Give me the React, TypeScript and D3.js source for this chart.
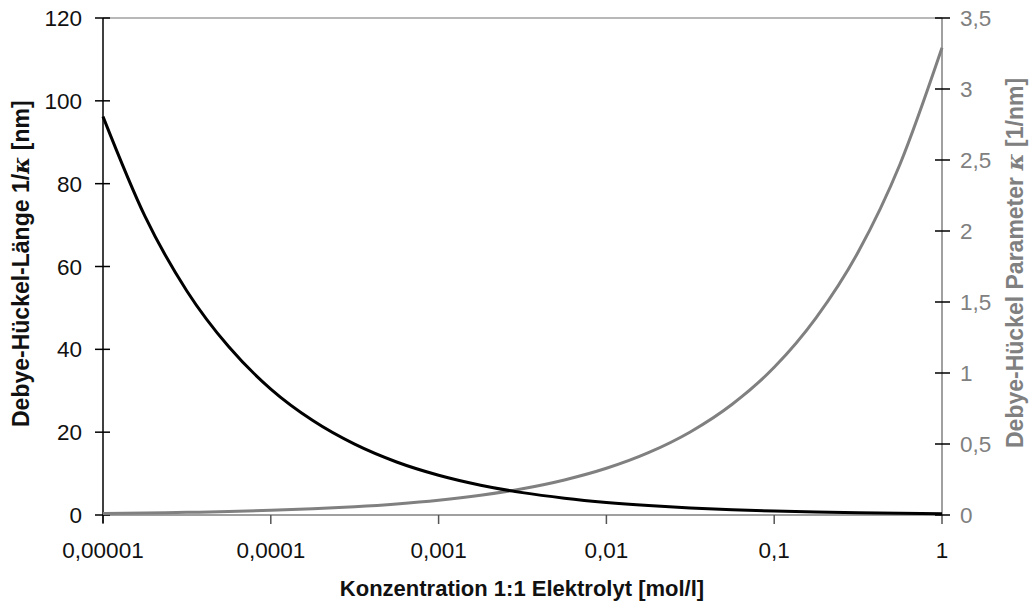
import React from "react";
import * as d3 from "d3";

const concentrations = [
  1e-5, 1.78e-5, 3.16e-5, 5.62e-5, 1e-4, 1.78e-4, 3.16e-4, 5.62e-4, 1e-3, 1.78e-3, 3.16e-3,
  5.62e-3, 0.01, 0.0178, 0.0316, 0.0562, 0.1, 0.178, 0.316, 0.562, 1,
];
const debyeLength = [
  96.2, 72.1, 54.1, 40.6, 30.4, 22.8, 17.1, 12.8, 9.6, 7.2, 5.4, 4.06, 3.04, 2.28, 1.71, 1.28,
  0.96, 0.72, 0.54, 0.41, 0.3,
];
const debyeKappa = [
  0.0104, 0.0139, 0.0185, 0.0247, 0.0329, 0.0439, 0.0585, 0.078, 0.104, 0.139, 0.185, 0.247,
  0.329, 0.439, 0.585, 0.78, 1.04, 1.39, 1.85, 2.47, 3.29,
];
const xTicks = [1e-5, 1e-4, 1e-3, 1e-2, 1e-1, 1];
const xTickLabels = ["0,00001", "0,0001", "0,001", "0,01", "0,1", "1"];
const leftTicks = [0, 20, 40, 60, 80, 100, 120];
const rightTicks = [0, 0.5, 1, 1.5, 2, 2.5, 3, 3.5];
const rightTickLabels = ["0", "0,5", "1", "1,5", "2", "2,5", "3", "3,5"];

const W = 1033;
const H = 605;
const L = 103;
const R = 942;
const T = 18;
const B = 515;
const FONT = "'Liberation Sans', Arial, sans-serif";
const GRAY = "#808080";

export default function App() {
  const x = d3.scaleLog().domain([1e-5, 1]).range([L, R]);
  const yL = d3.scaleLinear().domain([0, 120]).range([B, T]);
  const yR = d3.scaleLinear().domain([0, 3.5]).range([B, T]);

  const lineL = d3
    .line<number>()
    .x((_, i) => x(concentrations[i]))
    .y((d) => yL(d))
    .curve(d3.curveMonotoneX);
  const lineR = d3
    .line<number>()
    .x((_, i) => x(concentrations[i]))
    .y((d) => yR(d))
    .curve(d3.curveMonotoneX);

  return (
    <svg
      width={W}
      height={H}
      style={{ position: "absolute", left: 0, top: 0, background: "#fff" }}
      fontFamily={FONT}
    >
      <rect x={0} y={0} width={W} height={H} fill="#fff" />
      {/* top border */}
      <line x1={L} x2={R} y1={T} y2={T} stroke="#a0a0a0" strokeWidth={1.5} />
      {/* x axis */}
      <line x1={L} x2={R} y1={B} y2={B} stroke={GRAY} strokeWidth={1.5} />
      {xTicks.map((t, i) => (
        <g key={"xt" + i}>
          <line x1={x(t)} x2={x(t)} y1={B} y2={B + 9} stroke="#555" strokeWidth={1.5} />
          <text x={x(t)} y={558} textAnchor="middle" fontSize={22.5} fill="#111">
            {xTickLabels[i]}
          </text>
        </g>
      ))}
      {/* left axis */}
      <line x1={L} x2={L} y1={T} y2={B + 8} stroke="#000" strokeWidth={1.5} />
      {leftTicks.map((t) => (
        <g key={"lt" + t}>
          <line x1={L - 8} x2={L + 7} y1={yL(t)} y2={yL(t)} stroke="#000" strokeWidth={1.5} />
          <text x={82} y={yL(t) + 8} textAnchor="end" fontSize={22.5} fill="#111">
            {t}
          </text>
        </g>
      ))}
      {/* right axis */}
      <line x1={R} x2={R} y1={T} y2={B + 8} stroke={GRAY} strokeWidth={1.5} />
      {rightTicks.map((t, i) => (
        <g key={"rt" + i}>
          <line x1={R - 7} x2={R + 8} y1={yR(t)} y2={yR(t)} stroke="#000" strokeWidth={1.5} />
          <text x={960} y={yR(t) + 8} textAnchor="start" fontSize={22.5} fill={GRAY}>
            {rightTickLabels[i]}
          </text>
        </g>
      ))}
      {/* curves */}
      <path d={lineR(debyeKappa) || ""} fill="none" stroke={GRAY} strokeWidth={3} />
      <path d={lineL(debyeLength) || ""} fill="none" stroke="#000" strokeWidth={3} />
      {/* titles */}
      <text x={522} y={596} textAnchor="middle" fontSize={22} fontWeight="bold" fill="#111">
        Konzentration 1:1 Elektrolyt [mol/l]
      </text>
      <text
        transform="translate(29,427) rotate(-90)"
        textAnchor="start"
        fontSize={23}
        fontWeight="bold"
        fill="#111"
      >
        Debye-Hückel-Länge 1/<tspan fontStyle="italic" fontFamily="'DejaVu Serif', serif">κ</tspan> [nm]
      </text>
      <text
        transform="translate(1023,448) rotate(-90)"
        textAnchor="start"
        fontSize={23}
        fontWeight="bold"
        fill={GRAY}
      >
        Debye-Hückel Parameter <tspan fontStyle="italic" fontFamily="'DejaVu Serif', serif">κ</tspan> [1/nm]
      </text>
    </svg>
  );
}
